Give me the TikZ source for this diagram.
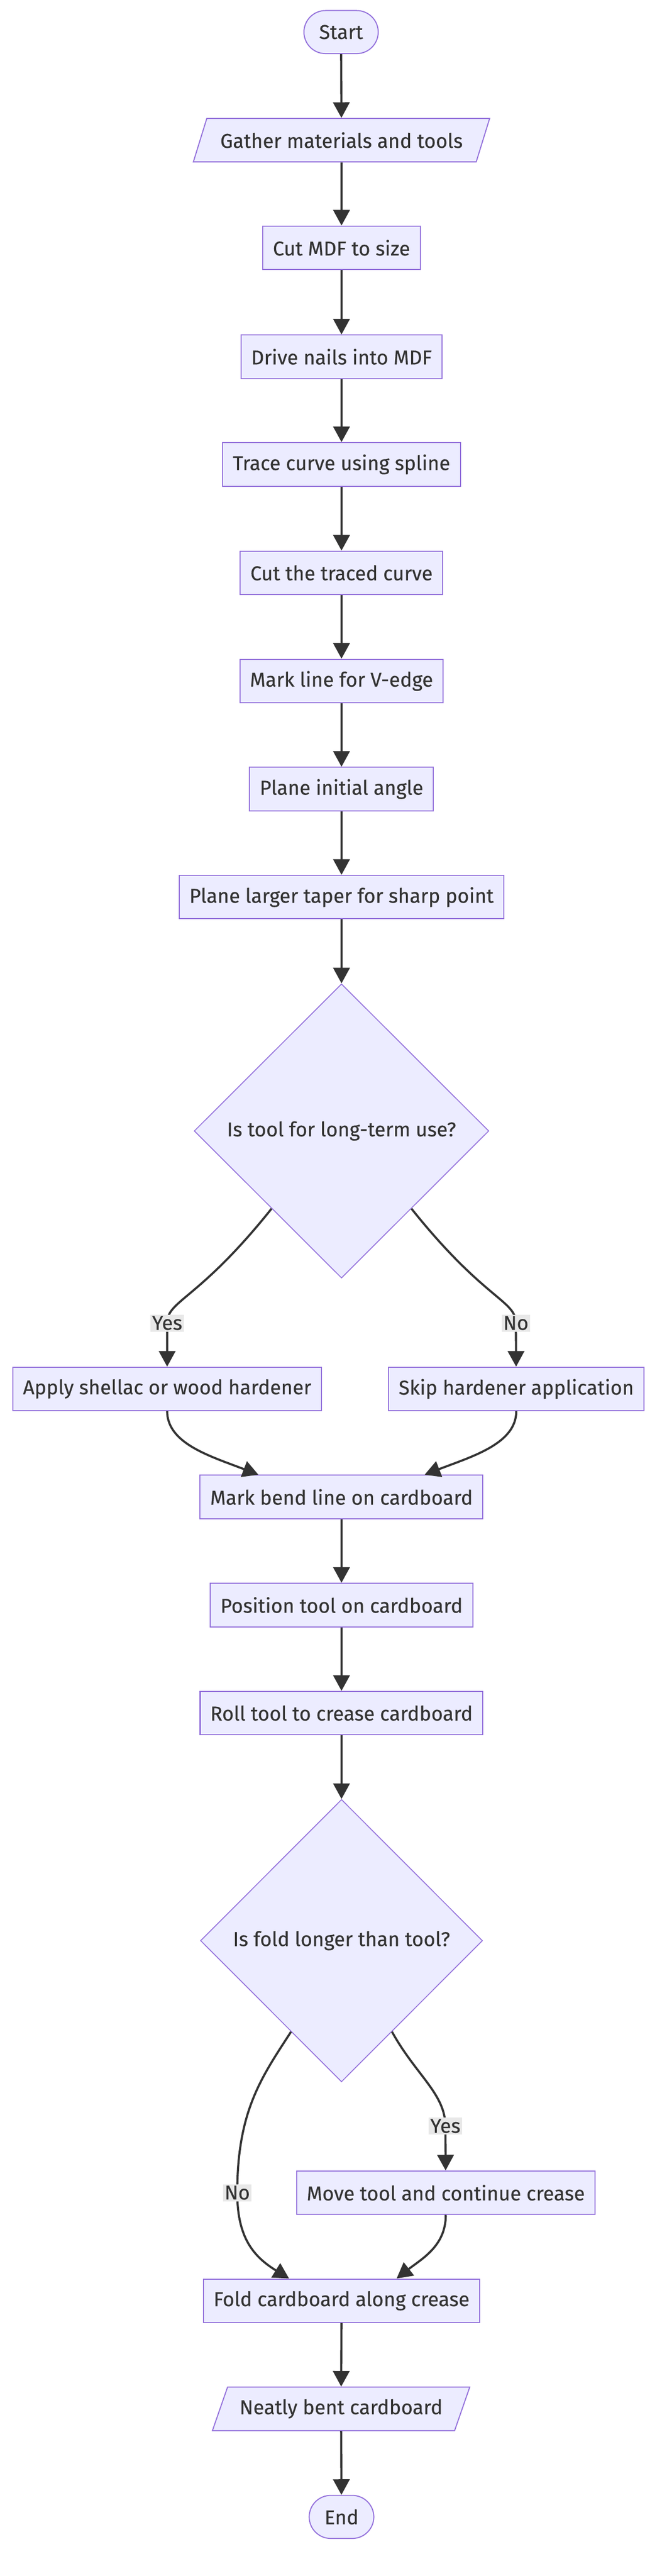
\documentclass[tikz,border=0pt]{standalone}
\usepackage{fontspec}
\setmainfont{Fira Sans}[FakeBold=0.25]
\usetikzlibrary{shapes.geometric,arrows.meta}
\definecolor{boxfill}{HTML}{ECECFF}
\definecolor{boxline}{HTML}{9370DB}
\definecolor{ink}{HTML}{333333}
\definecolor{labelbg}{HTML}{E8E8E8}

\begin{document}
\begin{tikzpicture}[font=\fontsize{13.5}{16}\selectfont]
% style des nœuds
\tikzstyle{etape}=[rectangle,draw=boxline,line width=0.7pt,fill=boxfill,text=ink,minimum height=1.03cm,inner xsep=0.24cm]
\tikzstyle{terminal}=[etape,rounded corners=0.51cm,minimum height=1.02cm,inner xsep=0.36cm]
\tikzstyle{donnee}=[etape,trapezium,trapezium left angle=63,trapezium right angle=117,trapezium stretches=true]
\tikzstyle{choix}=[diamond,draw=boxline,line width=0.6pt,fill=boxfill,text=ink,inner sep=0pt]
% style des flèches
\tikzstyle{transition}=[->,>={Triangle[length=0.37cm,width=0.39cm]},line width=0.05cm,draw=ink]
\tikzstyle{reponse}=[fill=labelbg,text=ink,inner sep=1pt]
\useasboundingbox (0,0) rectangle (15.68,-61.02);
% placement des nœuds
\node[terminal] (start) at (8.08,-0.76) {Start};
\node[donnee,minimum width=7.03cm] (gather) at (8.09,-3.32) {Gather materials and tools};
\node[etape] (cutmdf) at (8.09,-5.87) {Cut MDF to size};
\node[etape] (nails) at (8.09,-8.45) {Drive nails into MDF};
\node[etape] (trace) at (8.09,-11.00) {Trace curve using spline};
\node[etape] (cutcurve) at (8.09,-13.57) {Cut the traced curve};
\node[etape] (markline) at (8.09,-16.13) {Mark line for V-edge};
\node[etape] (plane1) at (8.09,-18.69) {Plane initial angle};
\node[etape] (plane2) at (8.09,-21.25) {Plane larger taper for sharp point};
\node[choix,minimum width=6.98cm,minimum height=6.97cm] (tool) at (8.09,-26.79) {Is tool for long-term use?};
\node[etape] (apply) at (3.96,-32.90) {Apply shellac or wood hardener};
\node[etape] (skip) at (12.23,-32.90) {Skip hardener application};
\node[etape] (markbend) at (8.09,-35.46) {Mark bend line on cardboard};
\node[etape] (position) at (8.09,-38.02) {Position tool on cardboard};
\node[etape] (roll) at (8.09,-40.58) {Roll tool to crease cardboard};
\node[choix,minimum width=6.68cm,minimum height=6.69cm] (longer) at (8.09,-45.97) {Is fold longer than tool?};
\node[etape] (move) at (10.56,-51.94) {Move tool and continue crease};
\node[etape] (fold) at (8.09,-54.50) {Fold cardboard along crease};
\node[donnee,minimum width=6.10cm] (neatly) at (8.08,-57.06) {Neatly bent cardboard};
\node[terminal] (end) at (8.09,-59.62) {End};
% placement des flèches
\draw[transition] (start) -- (gather);
\draw[transition] (gather) -- (cutmdf);
\draw[transition] (cutmdf) -- (nails);
\draw[transition] (nails) -- (trace);
\draw[transition] (trace) -- (cutcurve);
\draw[transition] (cutcurve) -- (markline);
\draw[transition] (markline) -- (plane1);
\draw[transition] (plane1) -- (plane2);
\draw[transition] (plane2) -- (tool);
\draw[transition] (tool.228) .. controls (4.70,-30.80) and (3.96,-30.80) .. (3.96,-31.34) node[reponse] {Yes} -- (apply);
\draw[transition] (tool.312) .. controls (11.48,-30.80) and (12.22,-30.80) .. (12.22,-31.34) node[reponse] {No} -- (skip);
\draw[transition] (apply) .. controls (3.96,-34.20) and (5.00,-34.50) .. (markbend.165);
\draw[transition] (skip) .. controls (12.23,-34.20) and (11.18,-34.50) .. (markbend.15);
\draw[transition] (markbend) -- (position);
\draw[transition] (position) -- (roll);
\draw[transition] (roll) -- (longer);
\draw[transition] (longer.299) .. controls (9.85,-49.15) and (10.55,-49.60) .. (10.55,-50.36) node[reponse] {Yes} -- (move);
\draw[transition] (longer.241) .. controls (6.20,-49.20) and (5.62,-50.00) .. (5.62,-51.94) node[reponse] {No} .. controls (5.62,-53.00) and (6.00,-53.45) .. (fold.157.5);
\draw[transition] (move) .. controls (10.56,-53.20) and (10.00,-53.50) .. (fold.22.5);
\draw[transition] (fold) -- (neatly);
\draw[transition] (neatly) -- (end);
\end{tikzpicture}
\end{document}
